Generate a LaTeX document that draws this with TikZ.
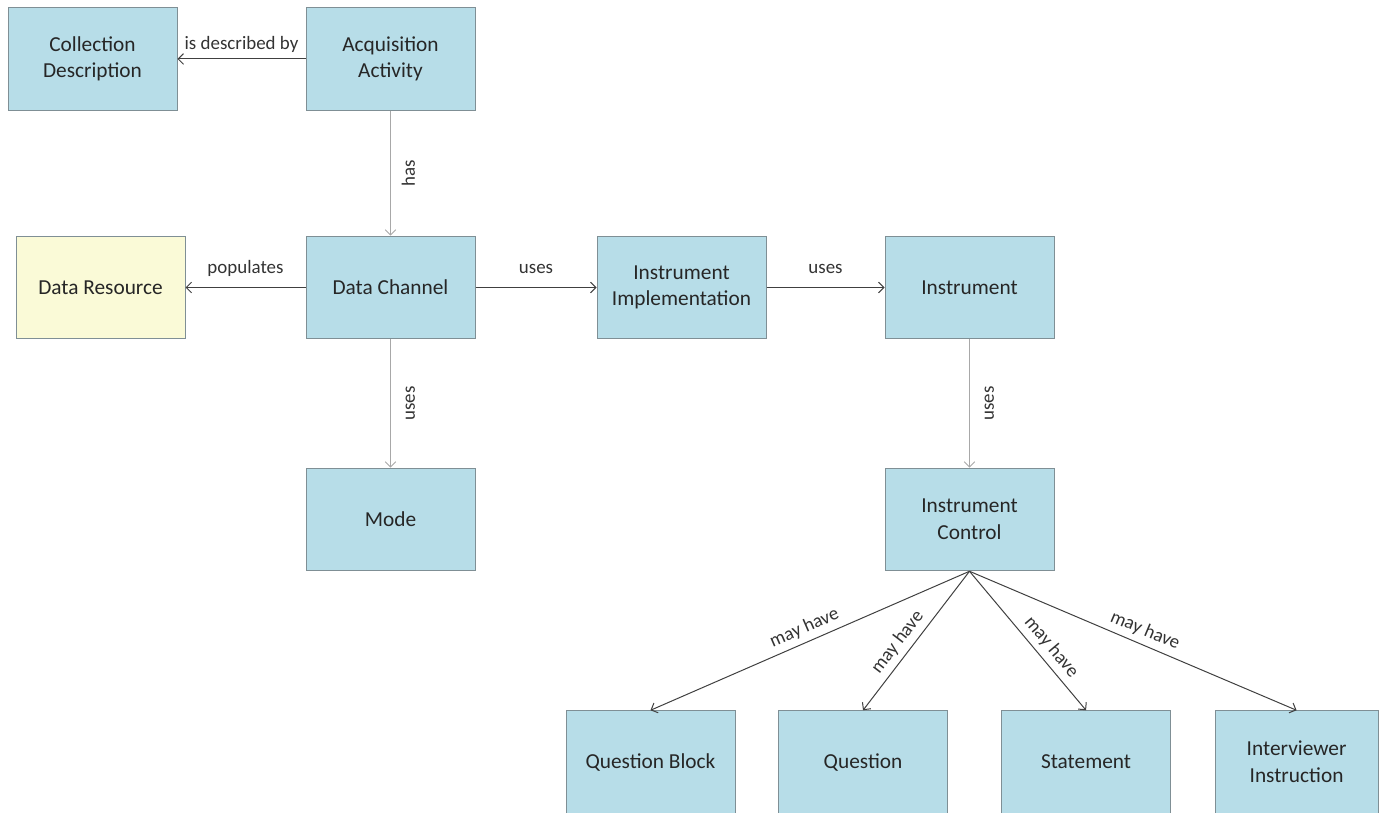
\documentclass[tikz,border=0pt]{standalone}
\usepackage{fontspec}
\setmainfont{Carlito}
\usetikzlibrary{positioning,arrows.meta}
\definecolor{boxblue}{HTML}{B7DDE8}
\definecolor{boxyellow}{HTML}{FAFAD7}
\definecolor{boxline}{HTML}{7F8F95}
\definecolor{darkline}{HTML}{404040}
\definecolor{greyline}{HTML}{A8A8A8}

\begin{document}
\begin{tikzpicture}[->,>={Straight Barb[length=4pt,width=8pt]},line width=0.75pt,
  node distance=174pt and 217.5pt,on grid,
  box/.style={draw=boxline,fill=boxblue,minimum width=126.75pt,minimum height=76.9pt,
    align=center,font=\fontsize{16}{20}\selectfont,text=black!85},
  lbl/.style={font=\fontsize{14.2}{17}\selectfont,text=black!80,text height=10pt,text depth=3pt},
  vlbl/.style={lbl,xshift=4.5pt,rotate=90,anchor=north},
  dk/.style={draw=darkline},
  gr/.style={draw=greyline}]
  \useasboundingbox (0,0) rectangle (1036.5pt,-609.75pt);
  \node[box] (dc) at (292.875pt,-215.625pt) {Data Channel};
  \node[box] (acq) [above=171.4pt of dc] {Acquisition\\Activity};
  \node[box] (coll) [left=223.5pt of acq] {Collection\\Description};
  \node[box,fill=boxyellow] (res) [left=of dc] {Data Resource};
  \node[box] (impl) [right=218.25pt of dc] {Instrument\\Implementation};
  \node[box] (instr) [right=216pt of impl] {Instrument};
  \node[box] (mode) [below=of dc] {Mode};
  \node[box] (ctrl) [below=of instr] {Instrument\\Control};
  \node[box] (qblock) [below left=181.9pt and 239.25pt of ctrl] {Question Block};
  \node[box] (quest) [right=159.4pt of qblock] {Question};
  \node[box] (stmt) [right=167.25pt of quest] {Statement};
  \node[box,minimum width=122.25pt] (instruct) [right=157.9pt of stmt] {Interviewer\\Instruction};
  \path (acq) edge[dk] node[lbl,above=0.5pt] {is described by} (coll);
  \path (acq) edge[gr] node[vlbl] {has} (dc);
  \path (dc) edge[dk] node[lbl,above=4pt] {populates} (res);
  \path (dc) edge[dk] node[lbl,above=4pt] {uses} (impl);
  \path (impl) edge[dk] node[lbl,above=4pt] {uses} (instr);
  \path (dc) edge[gr] node[vlbl] {uses} (mode);
  \path (instr) edge[gr] node[vlbl] {uses} (ctrl);
  \path (ctrl.south) edge[dk] node[lbl,sloped,above,pos=0.5] {may have} (qblock.north);
  \path (ctrl.south) edge[dk] node[lbl,sloped,above,pos=0.57] {may have} (quest.north);
  \path (ctrl.south) edge[dk] node[lbl,sloped,above,pos=0.61] {may have} (stmt.north);
  \path (ctrl.south) edge[dk] node[lbl,sloped,above,pos=0.52] {may have} (instruct.north);
\end{tikzpicture}
\end{document}
